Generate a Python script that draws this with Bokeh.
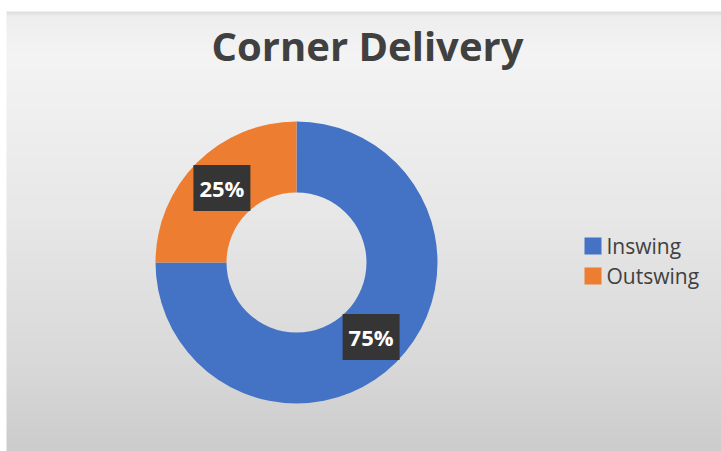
import numpy as np
from bokeh.plotting import figure
from bokeh.models import ColumnDataSource, Range1d
from bokeh.core.properties import value
from bokeh.embed import file_html
from bokeh.resources import INLINE

# ---- data ----
title = "Corner Delivery"
categories = ["Inswing", "Outswing"]
shares = [75, 25]
colors = ["#4472C4", "#ED7D31"]

W, H = 721, 451
p = figure(width=W, height=H, output_backend="svg", toolbar_location=None,
           x_range=Range1d(0, W), y_range=Range1d(0, H), min_border=0)
p.axis.visible = False
p.grid.visible = False
p.outline_line_color = None
p.background_fill_color = "white"
p.border_fill_color = "white"

# background gradient (style only)
stops_y = np.array([0.0, 0.01, 0.1, 0.45, 0.8, 1.0])   # fraction from top
stops_v = np.array([222, 238, 244, 232, 217, 204])
rows = 440
t = np.linspace(0, 1, rows)
v = np.interp(t, stops_y, stops_v).astype(np.uint32)
v = v[::-1]  # image rows go bottom->top
img = (255 << 24) | (v << 16) | (v << 8) | v
img = img.reshape(rows, 1).astype(np.uint32)
p.image_rgba(image=[img], x=6, y=0, dw=W - 6, dh=rows)

# donut
cx, cy = 296, 189
r_in, r_out = 70, 141
total = float(sum(shares))
fr = np.array(shares) / total
cum_end = np.cumsum(fr)
cum_start = cum_end - fr
start = np.pi / 2 - 2 * np.pi * cum_start
end = np.pi / 2 - 2 * np.pi * cum_end
mid = (start + end) / 2
r_lab = (r_in + r_out) / 2
src = ColumnDataSource(dict(
    cat=categories, color=colors, start=start, end=end,
    lx=cx + r_lab * np.cos(mid), ly=cy + r_lab * np.sin(mid),
    lab=[f"{s}%" for s in shares],
))
p.annular_wedge(x=cx, y=cy, inner_radius=r_in, outer_radius=r_out,
                start_angle="start", end_angle="end", direction="clock",
                color="color", line_color=None, source=src)
p.text(x="lx", y="ly", text="lab", source=src, text_color="white",
       text_font=value("Open Sans"), text_font_style="bold", text_font_size="22px",
       text_align="center", text_baseline="middle",
       background_fill_color="#353535",
       padding=dict(left=6, right=6, top=8, bottom=8))

# title
p.text(x=[367], y=[406], text=[title], text_font=value("Open Sans"),
       text_font_style="bold", text_font_size="40px", text_color="#404040",
       text_align="center", text_baseline="middle")

# legend
idx = np.arange(len(categories))
lsrc = ColumnDataSource(dict(
    x=np.full(len(categories), 592.5), y=205.5 - 30 * idx,
    tx=np.full(len(categories), 606), cat=categories, color=colors))
p.rect(x="x", y="y", width=17, height=17, color="color", line_color=None, source=lsrc)
p.text(x="tx", y="y", text="cat", source=lsrc, text_color="#404040",
       text_font=value("Open Sans"), text_font_size="21px",
       text_baseline="middle", text_align="left")

open("out.html", "w").write(file_html(p, INLINE))
